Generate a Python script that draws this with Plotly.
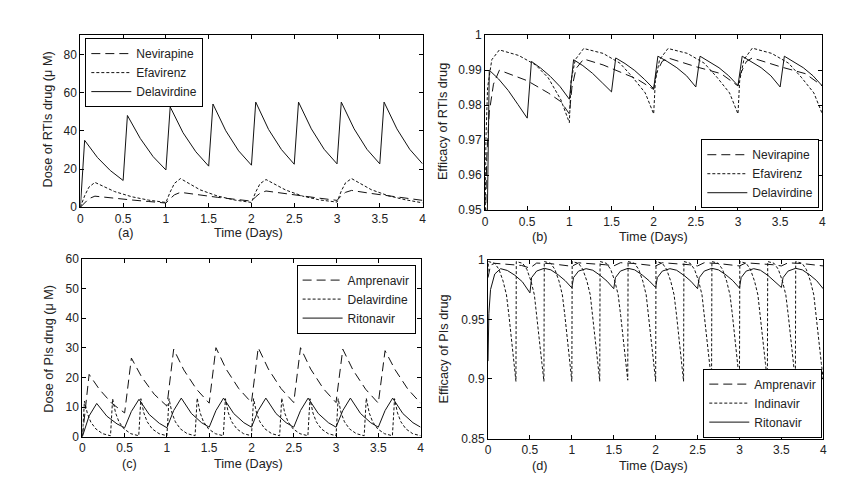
import plotly.graph_objects as go

# ---------------- Panel (a): dose of RTIs drug ----------------
a_t_del = [0, 0.05, 0.2, 0.35, 0.5, 0.55, 0.7, 0.85, 1.0, 1.05, 1.2, 1.35, 1.5, 1.55, 1.7, 1.85, 2.0,
           2.05, 2.2, 2.35, 2.5, 2.55, 2.7, 2.85, 3.0, 3.05, 3.2, 3.35, 3.5, 3.55, 3.7, 3.85, 4.0]
a_del = [0, 35, 26, 19.2, 14, 48, 36, 26.5, 19.5, 52.5, 39, 29, 21.5, 54, 40, 29.5, 22,
         55, 40.7, 30.2, 22.5, 55, 41, 30.3, 22.7, 55, 41, 30.3, 22.7, 55, 41, 30.3, 22.7]
a_t_ne = [0, 0.05, 0.1, 0.17, 0.4, 0.6, 0.8, 1.0, 1.05, 1.1, 1.17, 1.4, 1.6, 1.8, 2.0,
          2.05, 2.1, 2.17, 2.4, 2.6, 2.8, 3.0, 3.05, 3.1, 3.17, 3.4, 3.6, 3.8, 4.0]
a_nev = [0, 2.5, 4.5, 5.8, 4.6, 3.8, 3.0, 2.2, 4.5, 6.5, 7.8, 6.3, 5.2, 4.2, 3.2,
         5.5, 7.3, 8.5, 7.0, 5.8, 4.7, 3.6, 6.0, 7.8, 8.8, 7.2, 6.0, 4.8, 3.6]
a_efa = [0, 6, 10.5, 13, 8.2, 5.5, 3.7, 2.5, 8, 12.5, 15, 9.1, 5.9, 3.8, 2.5,
         8, 12.3, 14.5, 9, 5.8, 3.8, 2.7, 8.5, 12.8, 15, 9.2, 6, 3.9, 2.3]

# ---------------- Panel (b): efficacy of RTIs drug ----------------
b_t_nev = [0, 0.02, 0.05, 0.1, 0.17, 0.5, 0.75, 0.9, 1.0, 1.03, 1.08, 1.17, 1.4, 1.6, 1.8, 2.0,
           2.03, 2.1, 2.17, 2.5, 2.8, 3.0, 3.03, 3.1, 3.17, 3.5, 3.8, 4.0]
b_nev = [0.94, 0.965, 0.978, 0.986, 0.990, 0.987, 0.9835, 0.981, 0.9775, 0.985, 0.9905, 0.9932,
         0.9915, 0.9895, 0.9875, 0.9845, 0.989, 0.9925, 0.9935, 0.991, 0.989, 0.9855,
         0.989, 0.9925, 0.9935, 0.991, 0.989, 0.9855]
b_t_efa = [0, 0.01, 0.03, 0.08, 0.17, 0.4, 0.6, 0.75, 0.9, 1.0, 1.02, 1.07, 1.17, 1.4, 1.6, 1.75,
           1.9, 2.0, 2.02, 2.07, 2.17, 2.4, 2.6, 2.75, 2.9, 3.0, 3.02, 3.07, 3.17, 3.4, 3.6,
           3.75, 3.9, 4.0]
b_efa = [0.94, 0.97, 0.985, 0.993, 0.9958, 0.9942, 0.9915, 0.9878, 0.9815, 0.975, 0.987, 0.993,
         0.9962, 0.9948, 0.992, 0.988, 0.9835, 0.9775, 0.987, 0.993, 0.9962, 0.9948, 0.992,
         0.988, 0.9835, 0.9775, 0.987, 0.993, 0.9963, 0.9948, 0.992, 0.988, 0.9835, 0.9775]
b_t_del = [0, 0.03, 0.05, 0.16, 0.275, 0.39, 0.5, 0.55, 0.66, 0.775, 0.89, 1.0, 1.05, 1.16,
           1.275, 1.39, 1.5, 1.55, 1.66, 1.775, 1.89, 2.0, 2.05, 2.16, 2.275, 2.39, 2.5, 2.55,
           2.66, 2.775, 2.89, 3.0, 3.05, 3.16, 3.275, 3.39, 3.5, 3.55, 3.66, 3.775, 3.89, 4.0]
b_del = [0.90, 0.96, 0.990, 0.9875, 0.9842, 0.9802, 0.9763, 0.9925, 0.9906, 0.9882, 0.9853,
         0.9817, 0.993, 0.9913, 0.9891, 0.9864, 0.9838, 0.9935, 0.9919, 0.9899, 0.9874, 0.9847,
         0.994, 0.9925, 0.9907, 0.9884, 0.9852, 0.994, 0.9925, 0.9907, 0.9884, 0.9856, 0.994,
         0.9925, 0.9907, 0.9884, 0.9852, 0.994, 0.9925, 0.9907, 0.9884, 0.9855]

# ---------------- Panel (c): dose of PIs drug ----------------
c_t_amp = [0, 0.08, 0.2, 0.35, 0.5, 0.58, 0.7, 0.85, 1.0, 1.08, 1.2, 1.35, 1.5, 1.58, 1.7, 1.85,
           2.0, 2.08, 2.2, 2.35, 2.5, 2.58, 2.7, 2.85, 3.0, 3.08, 3.2, 3.35, 3.5, 3.58, 3.7,
           3.85, 4.0]
c_amp = [0, 21, 16, 11.2, 8, 26.5, 20.2, 14.3, 10.3, 29.5, 22.5, 16, 11.3, 30, 22.8, 16.2,
         11.5, 30, 22.8, 16.2, 11.5, 30, 22.8, 16.2, 11.5, 29.5, 22.5, 16, 11.3, 29, 22.5,
         16, 11.3]
c_t_rit = [0, 0.08, 0.17, 0.29, 0.41, 0.5, 0.58, 0.67, 0.79, 0.91, 1.0, 1.08, 1.17, 1.29, 1.41,
           1.5, 1.58, 1.67, 1.79, 1.91, 2.0, 2.08, 2.17, 2.29, 2.41, 2.5, 2.58, 2.67, 2.79,
           2.91, 3.0, 3.08, 3.17, 3.29, 3.41, 3.5, 3.58, 3.67, 3.79, 3.91, 4.0]
c_rit = [0, 7, 11.2, 6.9, 4.3, 3.0, 8.5, 12.6, 7.5, 4.5, 3.0, 8.8, 13, 7.8, 4.7, 3.2, 8.8, 13,
         7.8, 4.7, 3.2, 8.8, 13, 7.8, 4.7, 3.2, 8.8, 13, 7.8, 4.7, 3.2, 8.8, 13, 7.8, 4.7, 3.2,
         8.8, 13, 7.8, 4.7, 3.2]
c_t_del = [0, 0.025, 0.06, 0.1, 0.16, 0.24,
           0.333, 0.358, 0.393, 0.433, 0.493, 0.573,
           0.667, 0.692, 0.727, 0.767, 0.827, 0.907,
           1.0, 1.025, 1.06, 1.1, 1.16, 1.24,
           1.333, 1.358, 1.393, 1.433, 1.493, 1.573,
           1.667, 1.692, 1.727, 1.767, 1.827, 1.907,
           2.0, 2.025, 2.06, 2.1, 2.16, 2.24,
           2.333, 2.358, 2.393, 2.433, 2.493, 2.573,
           2.667, 2.692, 2.727, 2.767, 2.827, 2.907,
           3.0, 3.025, 3.06, 3.1, 3.16, 3.24,
           3.333, 3.358, 3.393, 3.433, 3.493, 3.573,
           3.667, 3.692, 3.727, 3.767, 3.827, 3.907,
           4.0]
c_del = [0, 12, 7.8, 4.9, 2.6, 1.0,
         0.3, 12.8, 8, 5, 2.6, 1.0,
         0.3, 12.8, 8, 5, 2.6, 1.0,
         0.3, 12.8, 8, 5, 2.6, 1.0,
         0.3, 13, 8, 5, 2.6, 1.0,
         0.3, 12.8, 8, 5, 2.6, 1.0,
         0.3, 12.8, 8, 5, 2.6, 1.0,
         0.3, 13, 8, 5, 2.6, 1.0,
         0.3, 12.8, 8, 5, 2.6, 1.0,
         0.3, 12.8, 8, 5, 2.6, 1.0,
         0.3, 13, 8, 5, 2.6, 1.0,
         0.3, 12.8, 8, 5, 2.6, 1.0,
         0.3]

# ---------------- Panel (d): efficacy of PIs drug ----------------
d_t_amp = [0, 0.03, 0.08, 0.25, 0.4, 0.5, 0.58, 0.75, 0.9, 1.0, 1.08, 1.25, 1.4, 1.5, 1.58,
           1.75, 1.9, 2.0, 2.08, 2.25, 2.4, 2.5, 2.58, 2.75, 2.9, 3.0, 3.08, 3.25, 3.4, 3.5,
           3.58, 3.75, 3.9, 4.0]
d_amp = [0.985, 0.9955, 0.997, 0.9963, 0.9952, 0.993, 0.9972, 0.9967, 0.9957, 0.9945, 0.9974,
         0.9968, 0.9958, 0.9948, 0.9975, 0.9968, 0.9958, 0.9948, 0.9975, 0.9968, 0.9958,
         0.9948, 0.9975, 0.9968, 0.9958, 0.9948, 0.9974, 0.9968, 0.9958, 0.9948, 0.9974,
         0.9968, 0.9958, 0.9948]
d_t_ind = [0, 0.004, 0.08, 0.13, 0.18, 0.22, 0.25, 0.28, 0.31,
           0.333, 0.337, 0.413, 0.463, 0.513, 0.553, 0.583, 0.613, 0.643,
           0.667, 0.671, 0.747, 0.797, 0.847, 0.887, 0.917, 0.947, 0.977,
           1.0, 1.004, 1.08, 1.13, 1.18, 1.22, 1.25, 1.28, 1.31,
           1.333, 1.337, 1.413, 1.463, 1.513, 1.553, 1.583, 1.613, 1.643,
           1.667, 1.671, 1.747, 1.797, 1.847, 1.887, 1.917, 1.947, 1.977,
           2.0, 2.004, 2.08, 2.13, 2.18, 2.22, 2.25, 2.28, 2.31,
           2.333, 2.337, 2.413, 2.463, 2.513, 2.553, 2.583, 2.613, 2.643,
           2.667, 2.671, 2.747, 2.797, 2.847, 2.887, 2.917, 2.947, 2.977,
           3.0, 3.004, 3.08, 3.13, 3.18, 3.22, 3.25, 3.28, 3.31,
           3.333, 3.337, 3.413, 3.463, 3.513, 3.553, 3.583, 3.613, 3.643,
           3.667, 3.671, 3.747, 3.797, 3.847, 3.887, 3.917, 3.947, 3.977,
           4.0]
d_ind = [0.99, 0.9985, 0.997, 0.992, 0.982, 0.9705, 0.953, 0.935, 0.913,
         0.898, 0.9985, 0.997, 0.992, 0.982, 0.9705, 0.953, 0.935, 0.913,
         0.898, 0.9985, 0.997, 0.992, 0.982, 0.9705, 0.953, 0.935, 0.913,
         0.898, 0.9985, 0.997, 0.992, 0.982, 0.9705, 0.953, 0.935, 0.913,
         0.898, 0.9985, 0.997, 0.992, 0.982, 0.9705, 0.953, 0.935, 0.913,
         0.899, 0.9985, 0.997, 0.992, 0.982, 0.9705, 0.953, 0.935, 0.913,
         0.898, 0.9985, 0.997, 0.992, 0.982, 0.9705, 0.953, 0.935, 0.913,
         0.898, 0.9985, 0.997, 0.992, 0.982, 0.9705, 0.953, 0.935, 0.913,
         0.897, 0.9985, 0.997, 0.992, 0.982, 0.9705, 0.953, 0.935, 0.913,
         0.898, 0.9985, 0.997, 0.992, 0.982, 0.9705, 0.953, 0.935, 0.913,
         0.898, 0.9985, 0.997, 0.992, 0.982, 0.9705, 0.953, 0.935, 0.913,
         0.898, 0.9985, 0.997, 0.992, 0.982, 0.9705, 0.953, 0.935, 0.913,
         0.899]
d_t_rit = [0, 0.01, 0.03, 0.08, 0.15, 0.23, 0.32, 0.41, 0.5,
           0.52, 0.58, 0.67, 0.75, 0.84, 0.92, 1.0,
           1.02, 1.08, 1.17, 1.25, 1.34, 1.42, 1.5,
           1.52, 1.58, 1.67, 1.75, 1.84, 1.92, 2.0,
           2.02, 2.08, 2.17, 2.25, 2.34, 2.42, 2.5,
           2.52, 2.58, 2.67, 2.75, 2.84, 2.92, 3.0,
           3.02, 3.08, 3.17, 3.25, 3.34, 3.42, 3.5,
           3.52, 3.58, 3.67, 3.75, 3.84, 3.92, 4.0]
d_rit = [0.915, 0.955, 0.975, 0.988, 0.9925, 0.991, 0.987, 0.9815, 0.9722,
         0.985, 0.9905, 0.9928, 0.9915, 0.9872, 0.9825, 0.9764,
         0.985, 0.9905, 0.9925, 0.9912, 0.9868, 0.982, 0.9757,
         0.985, 0.9905, 0.9928, 0.9915, 0.9872, 0.9825, 0.9767,
         0.985, 0.9905, 0.9925, 0.9912, 0.9868, 0.982, 0.9757,
         0.985, 0.9905, 0.9928, 0.9915, 0.9872, 0.9825, 0.9762,
         0.985, 0.9905, 0.9925, 0.9912, 0.9868, 0.982, 0.9767,
         0.985, 0.9905, 0.9928, 0.9915, 0.9872, 0.9825, 0.9756]

x_ticks = [0, 0.5, 1, 1.5, 2, 2.5, 3, 3.5, 4]
x_ticktext = ["0", "0.5", "1", "1.5", "2", "2.5", "3", "3.5", "4"]
a_yticks = [0, 20, 40, 60, 80]
b_yticks = [0.95, 0.96, 0.97, 0.98, 0.99, 1]
b_yticktext = ["0.95", "0.96", "0.97", "0.98", "0.99", "1"]
c_yticks = [0, 10, 20, 30, 40, 50, 60]
d_yticks = [0.85, 0.9, 0.95, 1]
d_yticktext = ["0.85", "0.9", "0.95", "1"]

FONT = "Liberation Sans, Arial, sans-serif"
TXT = "#222222"
LINE = "#111111"
LONG = "9px,5px"
SHORT = "3px,2px"

fig = go.Figure()

def add(x, y, name, dash, xa, ya, leg):
    fig.add_trace(go.Scatter(x=x, y=y, name=name, mode="lines",
                             line=dict(color=LINE, width=1, dash=dash),
                             xaxis=xa, yaxis=ya, legend=leg, hoverinfo="skip"))

add(a_t_ne, a_nev, "Nevirapine", LONG, "x", "y", "legend")
add(a_t_ne, a_efa, "Efavirenz", SHORT, "x", "y", "legend")
add(a_t_del, a_del, "Delavirdine", "solid", "x", "y", "legend")

add(b_t_nev, b_nev, "Nevirapine", LONG, "x2", "y2", "legend2")
add(b_t_efa, b_efa, "Efavirenz", SHORT, "x2", "y2", "legend2")
add(b_t_del, b_del, "Delavirdine", "solid", "x2", "y2", "legend2")

add(c_t_amp, c_amp, "Amprenavir", LONG, "x3", "y3", "legend3")
add(c_t_del, c_del, "Delavirdine", SHORT, "x3", "y3", "legend3")
add(c_t_rit, c_rit, "Ritonavir", "solid", "x3", "y3", "legend3")

add(d_t_amp, d_amp, "Amprenavir", LONG, "x4", "y4", "legend4")
add(d_t_ind, d_ind, "Indinavir", SHORT, "x4", "y4", "legend4")
add(d_t_rit, d_rit, "Ritonavir", "solid", "x4", "y4", "legend4")

W, H = 862, 501
def px(v):
    return v / W
def py(v):
    return 1 - v / H

def xaxis(dom, anchor):
    return dict(domain=dom, anchor=anchor, range=[0, 4], tickmode="array", tickvals=x_ticks,
                ticktext=x_ticktext, ticks="inside", ticklen=4, tickcolor="black",
                showline=True, linecolor="black", linewidth=1, mirror="ticks",
                showgrid=False, zeroline=False,
                tickfont=dict(family=FONT, size=12, color=TXT))

def yaxis(dom, anchor, rng, vals, text=None):
    d = dict(domain=dom, anchor=anchor, range=rng, tickmode="array", tickvals=vals,
             ticks="inside", ticklen=4, tickcolor="black",
             showline=True, linecolor="black", linewidth=1, mirror="ticks",
             showgrid=False, zeroline=False,
             tickfont=dict(family=FONT, size=12, color=TXT))
    if text is not None:
        d["ticktext"] = text
    return d

pa = ([px(78), px(423)], [py(206), py(29)])
pb = ([px(486), px(826)], [py(209), py(29)])
pc = ([px(80), px(421)], [py(442), py(259)])
pd_ = ([px(489), px(827)], [py(444), py(260)])

leg_common = dict(bgcolor="white", bordercolor="black", borderwidth=1,
                  font=dict(family=FONT, size=12, color=TXT), tracegroupgap=0,
                  itemwidth=40)

annotations = []
def ann(x, y, text, angle=0, size=12.7):
    annotations.append(dict(x=px(x), y=py(y), xref="paper", yref="paper", text=text,
                            showarrow=False, textangle=angle, xanchor="center",
                            yanchor="middle",
                            font=dict(family=FONT, size=size, color=TXT)))

ann(45, 116, "Dose of RTIs drug (\u03bc M)", -90)
ann(443, 118, "Efficacy of RTIs drug", -90)
ann(47, 352, "Dose of PIs drug (\u03bc M)", -90)
ann(445, 352, "Efficacy of PIs drug", -90)
ann(248, 233, "Time (Days)")
ann(124, 233, "(a)")
ann(656, 237, "Time (Days)")
ann(541, 237, "(b)")
ann(248, 470, "Time (Days)")
ann(128, 470, "(c)")
ann(656, 472, "Time (Days)")
ann(541, 472, "(d)")

fig.update_layout(
    width=W, height=H, margin=dict(l=0, r=0, t=0, b=0),
    paper_bgcolor="white", plot_bgcolor="white",
    font=dict(family=FONT, size=12, color=TXT),
    showlegend=True,
    xaxis=xaxis(pa[0], "y"), yaxis=yaxis(pa[1], "x", [0, 90], a_yticks),
    xaxis2=xaxis(pb[0], "y2"), yaxis2=yaxis(pb[1], "x2", [0.95, 1.0], b_yticks, b_yticktext),
    xaxis3=xaxis(pc[0], "y3"), yaxis3=yaxis(pc[1], "x3", [0, 60], c_yticks),
    xaxis4=xaxis(pd_[0], "y4"), yaxis4=yaxis(pd_[1], "x4", [0.85, 1.0], d_yticks, d_yticktext),
    legend=dict(x=px(83), y=py(32), xanchor="left", yanchor="top", **leg_common),
    legend2=dict(x=px(823), y=py(207), xanchor="right", yanchor="bottom", **leg_common),
    legend3=dict(x=px(416), y=py(265), xanchor="right", yanchor="top", **leg_common),
    legend4=dict(x=px(826), y=py(443), xanchor="right", yanchor="bottom", **leg_common),
    annotations=annotations,
)

fig.write_html("out.html")
